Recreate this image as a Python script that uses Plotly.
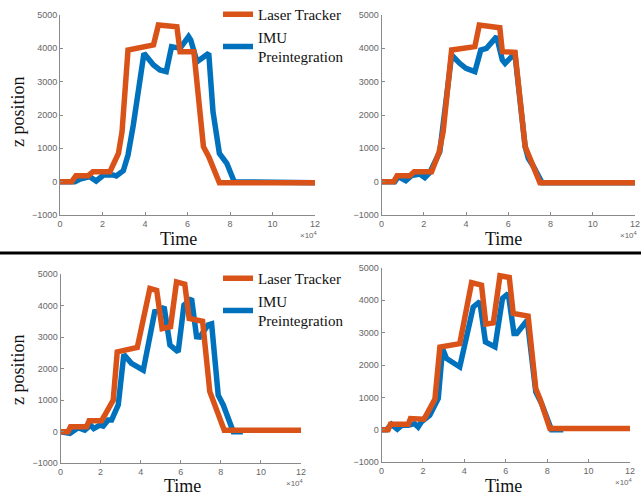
import plotly.graph_objects as go

# ---------------- data (time in units of 1e4, z position) ----------------
tl_laser_t = [0, 0.55, 0.75, 1.33, 1.55, 2.35, 2.75, 2.92, 3.2, 4.4, 4.63, 5.5, 5.65, 6.3, 6.75, 7.0, 7.5, 12]
tl_laser_z = [0, 0, 180, 180, 300, 300, 850, 1500, 3950, 4100, 4700, 4650, 3900, 3900, 1050, 750, -30, -30]
tl_imu_t = [0, 0.7, 0.95, 1.4, 1.7, 2.05, 2.5, 2.65, 2.98, 3.2, 3.45, 3.95, 4.4, 4.7, 5.0, 5.25, 5.65, 6.05, 6.15, 6.45, 7.0, 7.2, 7.5, 7.6, 7.85, 8.2, 12]
tl_imu_z = [0, 0, 80, 150, 20, 200, 200, 170, 330, 800, 1700, 3850, 3500, 3350, 3300, 4050, 4000, 4350, 4250, 3600, 3850, 2100, 850, 750, 550, 0, -30]

tr_laser_t = [0, 0.58, 0.74, 1.34, 1.55, 2.37, 2.72, 2.92, 3.32, 4.42, 4.63, 5.6, 5.72, 6.32, 6.8, 7.0, 7.2, 7.5, 12]
tr_laser_z = [0, 0, 180, 180, 300, 300, 870, 1500, 3950, 4050, 4700, 4620, 3900, 3880, 1050, 750, 450, -30, -30]
tr_imu_t = [0, 0.63, 0.79, 1.15, 1.42, 1.81, 2.05, 2.29, 2.76, 3.32, 3.7, 4.0, 4.42, 4.7, 4.97, 5.45, 5.72, 5.85, 6.16, 6.32, 6.8, 6.95, 7.2, 7.6, 12]
tr_imu_z = [0, 0, 150, 30, 180, 230, 120, 280, 900, 3800, 3550, 3400, 3300, 3950, 4000, 4350, 3650, 3550, 3750, 3800, 1050, 700, 450, -30, -30]

bl_laser_t = [0, 0.38, 0.5, 1.3, 1.43, 2.05, 2.26, 2.63, 2.83, 3.83, 4.46, 4.8, 5.07, 5.49, 5.79, 6.2, 6.42, 7.09, 7.45, 7.62, 8.17, 12]
bl_laser_z = [0, 0, 160, 160, 350, 350, 580, 1000, 2530, 2670, 4540, 4480, 3270, 3330, 4750, 4680, 3590, 3500, 1270, 950, 50, 50]
bl_imu_t = [0, 0.47, 0.88, 1.21, 1.5, 1.66, 1.96, 2.13, 2.38, 2.55, 2.88, 3.16, 3.54, 4.13, 4.7, 4.96, 5.17, 5.46, 5.87, 6.16, 6.54, 6.79, 6.95, 7.37, 7.54, 7.87, 8.12, 8.62, 9.1]
bl_imu_z = [0, -50, 130, 50, 210, 100, 210, 180, 370, 370, 850, 2450, 2170, 1950, 3800, 3820, 3960, 2750, 2530, 4010, 4220, 3010, 3000, 3390, 3420, 1160, 850, 0, 0]

br_laser_t = [0, 0.32, 0.43, 1.29, 1.4, 2.05, 2.2, 2.58, 2.82, 3.78, 4.35, 4.83, 5.04, 5.4, 5.72, 6.17, 6.36, 7.08, 7.45, 7.65, 8.13, 12]
br_laser_z = [0, 0, 170, 170, 350, 330, 500, 950, 2550, 2660, 4540, 4460, 3260, 3300, 4750, 4700, 3590, 3510, 1270, 960, 40, 40]
br_imu_t = [0, 0.24, 0.48, 0.76, 0.97, 1.29, 1.6, 1.77, 1.93, 2.33, 2.74, 2.95, 3.14, 3.78, 4.43, 4.75, 5.02, 5.48, 5.84, 6.12, 6.4, 6.53, 7.04, 7.45, 7.73, 8.21, 8.78]
br_imu_z = [0, 0, 170, 20, 140, 140, 190, 90, 250, 450, 970, 2500, 2200, 1940, 3790, 3950, 2710, 2560, 4050, 4200, 2970, 2970, 3380, 1170, 810, 0, 0]

x_ticks = [0, 2, 4, 6, 8, 10, 12]
y_ticks = [-1000, 0, 1000, 2000, 3000, 4000, 5000]

ORANGE = "#D95319"
BLUE = "#0072BD"
W, H = 641, 495
SERIF = "Times New Roman, Liberation Serif, serif"
SANS = "Arial, Liberation Sans, sans-serif"

panels = [
    # data, x px range, y px range, legend, time-label centre (px), z-label centre y (px) or None
    (tl_laser_t, tl_laser_z, tl_imu_t, tl_imu_z, (60, 315), (15, 215), "legend", (178, 239), 112),
    (tr_laser_t, tr_laser_z, tr_imu_t, tr_imu_z, (381.5, 635), (15, 215), None, (503, 239), None),
    (bl_laser_t, bl_laser_z, bl_imu_t, bl_imu_z, (60.5, 301), (274, 463.3), "legend2", (182, 486), 370),
    (br_laser_t, br_laser_z, br_imu_t, br_imu_z, (381.5, 630), (267.7, 462.3), None, (503, 486), None),
]

fig = go.Figure()
layout = {}
annotations = []
for i, (lt, lz, it, iz, xr, yr, leg, tpos, zy) in enumerate(panels):
    n = "" if i == 0 else str(i + 1)
    xa, ya = "x" + n, "y" + n
    show = leg is not None
    fig.add_trace(go.Scatter(x=it, y=iz, mode="lines", name="IMU<br>Preintegration",
                             line=dict(color=BLUE, width=5.5), xaxis=xa, yaxis=ya,
                             showlegend=show, legend=leg if leg else "legend", legendrank=2))
    fig.add_trace(go.Scatter(x=lt, y=lz, mode="lines", name="Laser Tracker",
                             line=dict(color=ORANGE, width=5.5), xaxis=xa, yaxis=ya,
                             showlegend=show, legend=leg if leg else "legend", legendrank=1))
    xd = [xr[0] / W, xr[1] / W]
    yd = [1 - yr[1] / H, 1 - yr[0] / H]
    common = dict(showgrid=False, zeroline=False, showline=True, linecolor="#8a8a8a", linewidth=1,
                  ticks="inside", ticklen=3, tickcolor="#8a8a8a", automargin=False,
                  tickfont=dict(family=SANS, size=9, color="#666666"))
    layout["xaxis" + n] = dict(domain=xd, range=[0, 12], tickvals=x_ticks, anchor=ya, **common)
    layout["yaxis" + n] = dict(domain=yd, range=[-1000, 5000], tickvals=y_ticks, anchor=xa, **common)
    annotations.append(dict(text="×10<sup>4</sup>", x=xd[1], y=yd[0], xref="paper", yref="paper",
                            xanchor="right", yanchor="top", yshift=-13, xshift=4, showarrow=False,
                            font=dict(family=SANS, size=8, color="#666666")))
    annotations.append(dict(text="Time", x=tpos[0] / W, y=1 - tpos[1] / H, xref="paper", yref="paper",
                            xanchor="center", yanchor="middle", showarrow=False,
                            font=dict(family=SERIF, size=18, color="#111111")))
    if zy is not None:
        annotations.append(dict(text="z position", x=18 / W, y=1 - zy / H, xref="paper", yref="paper",
                                xanchor="center", yanchor="middle", showarrow=False, textangle=-90,
                                font=dict(family=SERIF, size=18, color="#111111")))

legend_common = dict(font=dict(family=SERIF, size=15, color="#111111"),
                     bgcolor="rgba(0,0,0,0)", traceorder="normal", itemwidth=30,
                     tracegroupgap=2, xanchor="left", yanchor="top")

fig.update_layout(
    width=W, height=H, margin=dict(l=0, r=0, t=0, b=0, autoexpand=False),
    paper_bgcolor="white", plot_bgcolor="white",
    showlegend=True,
    legend=dict(x=218 / W, y=1 + 2 / H, **legend_common),
    legend2=dict(x=218 / W, y=1 - 262 / H, **legend_common),
    annotations=annotations,
    shapes=[dict(type="line", xref="paper", yref="paper", x0=0, x1=1,
                 y0=1 - 253 / H, y1=1 - 253 / H, line=dict(color="black", width=3))],
    **layout,
)

fig.write_html("out.html", config={"displayModeBar": False},
               post_script="document.body.style.margin='0';document.body.style.overflow='hidden';")
